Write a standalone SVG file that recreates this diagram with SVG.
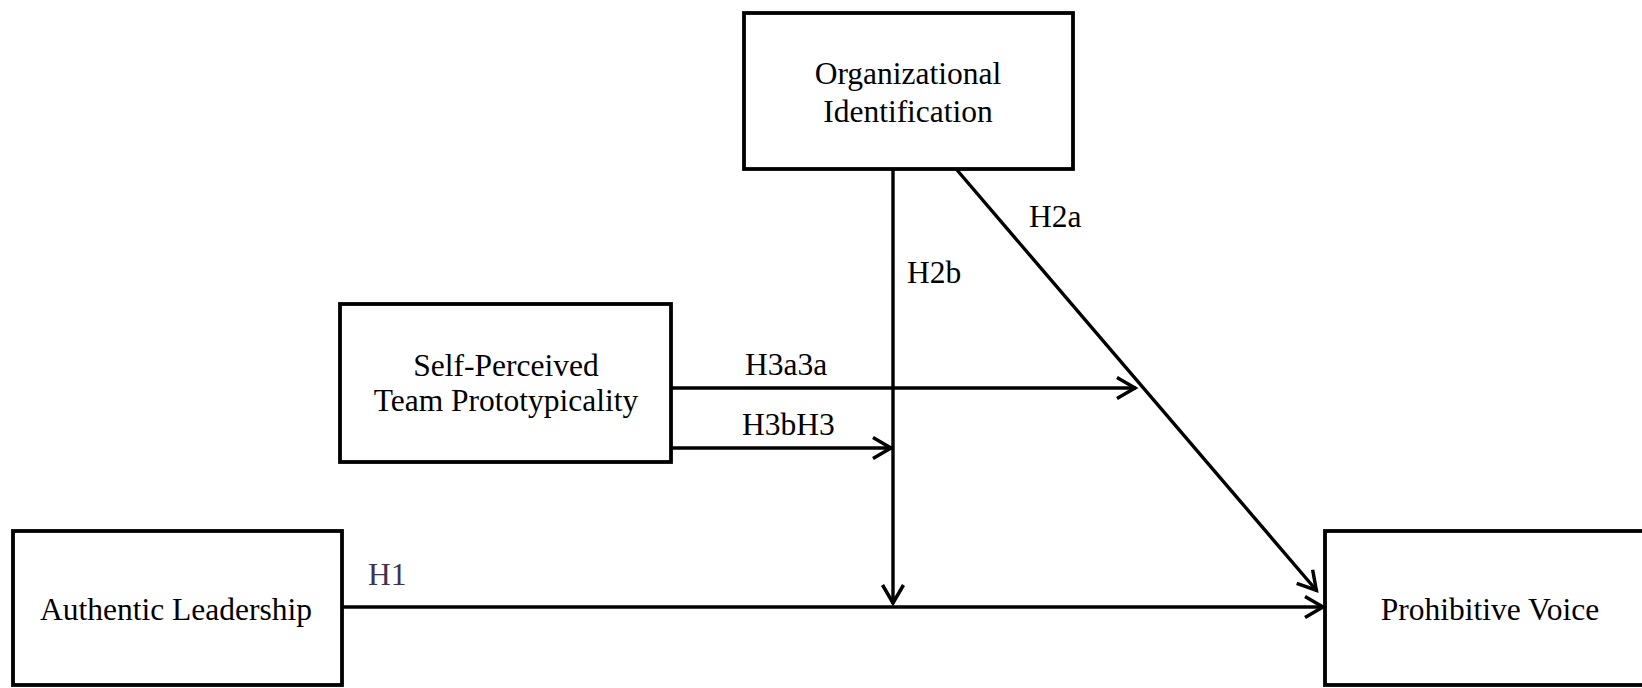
<svg xmlns="http://www.w3.org/2000/svg" width="1642" height="688" viewBox="0 0 1642 688">
<style>
.box{fill:#fff;stroke:#000;stroke-width:3.8}
.t{font-family:"Liberation Serif","Times New Roman",serif;font-size:31.5px;fill:#000}
.c{text-anchor:middle}
.ln{stroke:#000;stroke-width:3.4;fill:none}
</style>
<defs>
<marker id="arr" markerUnits="userSpaceOnUse" viewBox="-24 -14 28 28" markerWidth="28" markerHeight="28" refX="0" refY="0" orient="auto" overflow="visible">
<path d="M-19,-10.5 L-1,0 L-19,10.5" fill="none" stroke="#000" stroke-width="3.5" stroke-linejoin="miter"/>
</marker>
</defs>
<rect width="1642" height="688" fill="#fff"/>
<g id="connectors">
<line class="ln" x1="342" y1="607" x2="1324" y2="607" marker-end="url(#arr)"/>
<line class="ln" x1="893" y1="170" x2="893" y2="604" marker-end="url(#arr)"/>
<line class="ln" x1="957" y1="170" x2="1317" y2="591" marker-end="url(#arr)"/>
<line class="ln" x1="671" y1="388" x2="1136" y2="388" marker-end="url(#arr)"/>
<line class="ln" x1="671" y1="448" x2="892" y2="448" marker-end="url(#arr)"/>
<text class="t" x="368" y="585" style="fill:#3f3151">H1</text>
<text class="t" x="1029" y="227">H2a</text>
<text class="t" x="907" y="283">H2b</text>
<text class="t" x="745" y="375">H3a3a</text>
<text class="t" x="742" y="435">H3bH3</text>
</g>
<g id="org">
<rect class="box" x="744" y="13" width="329" height="156"/>
<text class="t c" x="908" y="84">Organizational</text>
<text class="t c" x="908" y="122">Identification</text>
</g>
<g id="self">
<rect class="box" x="340" y="304" width="331" height="158"/>
<text class="t c" x="506" y="376">Self-Perceived</text>
<text class="t c" x="506" y="411">Team Prototypicality</text>
</g>
<g id="authentic">
<rect class="box" x="13" y="531" width="329" height="154"/>
<text class="t c" x="176" y="620">Authentic Leadership</text>
</g>
<g id="prohibitive">
<rect class="box" x="1325" y="531" width="330" height="154"/>
<text class="t c" x="1490" y="620">Prohibitive Voice</text>
</g>
</svg>
